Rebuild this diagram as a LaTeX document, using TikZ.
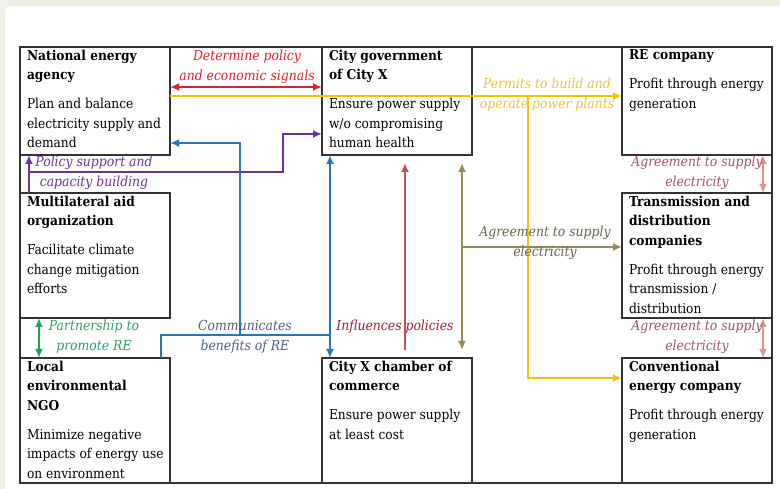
\documentclass[tikz,border=0pt]{standalone}
\usepackage{fontspec}
\setmainfont{DejaVu Serif Condensed}
\usetikzlibrary{arrows.meta}

\definecolor{pagebeige}{HTML}{EFEFE8}
\definecolor{boxgrey}{HTML}{333333}
\definecolor{policyred}{HTML}{E8202A}
\definecolor{permityellow}{HTML}{F4C20D}
\definecolor{permitlabel}{HTML}{EEC53A}
\definecolor{supportpurple}{HTML}{7030A0}
\definecolor{commblue}{HTML}{2276C2}
\definecolor{commlabel}{HTML}{4A5F8F}
\definecolor{influred}{HTML}{C0504D}
\definecolor{influlabel}{HTML}{A3203A}
\definecolor{agreeolive}{HTML}{948A54}
\definecolor{agreelabel}{HTML}{67654C}
\definecolor{agreepink}{HTML}{D99694}
\definecolor{pinklabel}{HTML}{A25563}
\definecolor{partnergreen}{HTML}{1FA35B}
\definecolor{partnerlabel}{HTML}{2E9E66}

% height, title, body
\newcommand{\actortext}[3]{\parbox[t][#1][t]{141pt}{\raggedright\leftskip=2.5pt\hfuzz=20pt
  {\bfseries #2\par}\vspace{9pt}#3}}

\begin{document}
\begin{tikzpicture}[x=1pt, y=-1pt]
	\tikzset{>={Latex[length=9pt,width=8pt]}}
	\tikzset{
		actor/.style={draw=boxgrey, line width=1.1pt, anchor=north west, inner xsep=4.5pt, inner ysep=3pt,
			minimum width=150pt, outer sep=0pt, font=\fontsize{13.6}{19.6}\selectfont},
		flow/.style={font=\itshape\fontsize{13.8}{20}\selectfont, align=center, inner sep=0pt},
		link/.style={line width=2.2pt},
	}
	\useasboundingbox (0,0) rectangle (780,489);
	\fill[pagebeige] (0,0) rectangle (780,489);
	\fill[white, rounded corners=5pt] (5,6) rectangle (800,510);
	\draw[boxgrey, line width=1.1pt] (20,47) rectangle (772,483);

	% actors
	\node[actor] (nea) at (20,47) {\actortext{102pt}{National energy\\agency}{Plan and balance\\electricity supply and\\demand}};
	\node[actor] (gov) at (322,47) {\actortext{102pt}{City government\\of City X}{Ensure power supply\\w/o compromising\\human health}};
	\node[actor] (rec) at (622,47) {\actortext{102pt}{RE company}{Profit through energy\\generation}};
	\node[actor] (mao) at (20,193) {\actortext{119pt}{Multilateral aid\\organization}{Facilitate climate\\change mitigation\\efforts}};
	\node[actor] (tdc) at (622,193) {\actortext{119pt}{Transmission and\\distribution\\companies}{Profit through energy\\transmission /\\distribution}};
	\node[actor] (ngo) at (20,358) {\actortext{119pt}{Local\\environmental\\NGO}{Minimize negative\\impacts of energy use\\on environment}};
	\node[actor] (coc) at (322,358) {\actortext{119pt}{City X chamber of\\commerce}{Ensure power supply\\at least cost}};
	\node[actor] (cec) at (622,358) {\actortext{119pt}{Conventional\\energy company}{Profit through energy\\generation}};

	% policy and permits
	\draw[link, policyred, <->] ([yshift=-40pt]nea.north east) -- ([yshift=-40pt]gov.north west);
	\node[flow, text=policyred] (lpolicy) at (247,67) {Determine policy\\and economic signals};
	\coordinate (ysplit) at (528,96);
	\draw[link, permityellow, ->] ([yshift=-49pt]nea.north east) -- ([yshift=-49pt]rec.north west);
	\draw[link, permityellow, ->] (ysplit) |- ([yshift=-20pt]cec.north west);
	\node[flow, text=permitlabel] (lpermit) at (547,95) {Permits to build and\\operate power plants};

	% support
	\coordinate (psplit) at (29,172);
	\coordinate (pbend) at (283,134);
	\draw[link, supportpurple, <-] ([xshift=9pt]nea.south west) -- ([xshift=9pt]mao.north west);
	\draw[link, supportpurple, ->] (psplit) -| (pbend) -- (pbend -| gov.west);
	\node[flow, text=supportpurple] (lsupport) at (94,173) {Policy support and\\capacity building};

	% communication
	\coordinate (bl) at (161,335);
	\coordinate (bm) at (240,335);
	\coordinate (br) at (330,335);
	\draw[link, commblue] ([xshift=141pt]ngo.north west) -- (bl) -- (br);
	\draw[link, commblue, ->] (br) -- (br |- gov.south);
	\draw[link, commblue, ->] (br) -- (br |- coc.north);
	\draw[link, commblue, ->] (bm) |- ([yshift=12pt]nea.south east);
	\node[flow, text=commlabel] (lcomm) at (245,337) {Communicates\\benefits of RE};

	% influence and supply
	\draw[link, influred, ->] ([xshift=83pt,yshift=8pt]coc.north west) -- ([xshift=83pt,yshift=-8pt]gov.south west);
	\node[flow, text=influlabel] (linfl) at (395,327) {Influences policies};
	\coordinate (osplit) at (462,247);
	\draw[link, agreeolive, <->] ([xshift=140pt,yshift=-8pt]gov.south west) -- ([xshift=140pt,yshift=8pt]coc.north west);
	\draw[link, agreeolive, ->] (osplit) -- (osplit -| tdc.west);
	\node[flow, text=agreelabel] (lagree) at (545,243) {Agreement to supply\\electricity};
	\draw[link, agreepink, <->] ([xshift=-9pt]rec.south east) -- ([xshift=-9pt]tdc.north east);
	\draw[link, agreepink, <->] ([xshift=-9pt]tdc.south east) -- ([xshift=-9pt]cec.north east);
	\node[flow, text=pinklabel] (lagreeup) at (697,173) {Agreement to supply\\electricity};
	\node[flow, text=pinklabel] (lagreedown) at (697,337) {Agreement to supply\\electricity};

	% partnership
	\draw[link, partnergreen, <->] ([xshift=19pt]mao.south west) -- ([xshift=19pt]ngo.north west);
	\node[flow, text=partnerlabel] (lpartner) at (94,337) {Partnership to\\promote RE};
\end{tikzpicture}
\end{document}
